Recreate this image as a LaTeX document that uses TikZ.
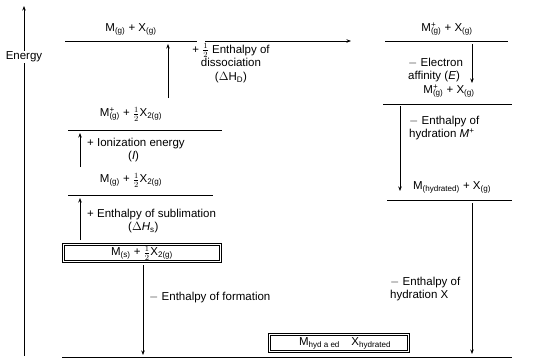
\documentclass[tikz,border=0pt]{standalone}
\usepackage{fontspec}
\setmainfont{Liberation Sans}
\usetikzlibrary{arrows.meta}
\newcommand\sbs[1]{\textsubscript{#1}}
\newcommand\ssb[2]{\rlap{\textsuperscript{#1}}\textsubscript{#2}}
\newcommand\hf{$\frac{1}{2}$}
\begin{document}
\begin{tikzpicture}[x=1pt,y=-1pt,font=\fontsize{11.5}{13.5}\selectfont,
  levelline/.style={line width=0.8pt},
  axisline/.style={line width=0.8pt},
  conn/.style={line width=0.7pt,-{Stealth[length=4.5pt,width=3.5pt]}},
  lbl/.style={inner sep=1pt},
  note/.style={inner sep=0pt,align=left,anchor=west},
  cnote/.style={inner sep=0pt,align=center},
  boxline/.style={line width=0.7pt},
  boxtext/.style={inner sep=0pt,minimum height=15pt}]
\useasboundingbox (0,0) rectangle (536,359);
% energy axis
\node[lbl] (en) at (24,57) {Energy};
\coordinate (axtop) at (24,6);
\coordinate (axbot) at (24,356);
\draw[conn,axisline] (en.north) -- (axtop);
\draw[axisline] (en.south) -- (axbot);
% left column levels
\node[lbl] (l1) at (131,29) {M\sbs{(g)} + X\sbs{(g)}};
\draw[levelline] (65,41) -- (197,41);
\node[lbl] (l2) at (131,114) {M\ssb{+}{(g)} + \hf X\sbs{2(g)}};
\draw[levelline] (68,130) -- (222,130);
\node[lbl] (l3) at (131,180) {M\sbs{(g)} + \hf X\sbs{2(g)}};
\draw[levelline] (68,195) -- (213,195);
\node[boxtext,minimum width=155pt] (l4) at (142,253) {M\sbs{(s)} + \hf X\sbs{2(g)}};
\draw[boxline] (l4.north west) rectangle (l4.south east);
\draw[boxline] ([xshift=-2pt,yshift=2pt]l4.north west) rectangle ([xshift=2pt,yshift=-2pt]l4.south east);
% right column levels
\node[lbl] (r1) at (447,29) {M\ssb{+}{(g)} + X\sbs{(g)}};
\draw[levelline] (385,41) -- (508,41);
\node[lbl] (r2) at (449,91) {M\ssb{+}{(g)} + X\sbs{(g)}};
\draw[levelline] (383,104) -- (512,104);
\node[lbl] (r3) at (452,187) {M\sbs{(hydrated)} + X\sbs{(g)}};
\draw[levelline] (387,200) -- (512,200);
\node[boxtext,minimum width=137pt] (bot) at (339,343) {\hspace*{12pt}M\sbs{hyd a ed}\quad X\sbs{hydrated}};
\draw[boxline] (bot.north west) rectangle (bot.south east);
\draw[boxline] ([xshift=-2pt,yshift=2pt]bot.north west) rectangle ([xshift=2pt,yshift=-2pt]bot.south east);
\draw[levelline] (62,357) -- (512,357);
% connectors
\coordinate (h1) at (205,41);
\coordinate (h2) at (351,41);
\draw[conn] (h1) -- (h2);
\coordinate (da) at (168,98);
\coordinate (db) at (168,44);
\draw[conn] (da) -- (db);
\node[cnote] (dl) at (231,63) {+ \hf\ Enthalpy of\\dissociation\\(\(\Delta\)H\sbs{D})};
\coordinate (ia) at (80,167);
\coordinate (ib) at (80,133);
\draw[conn] (ia) -- (ib);
\node[note] (il) at (87,150) {+ Ionization energy\\\hspace{41pt}(\textit{I})};
\coordinate (sa) at (80,240);
\coordinate (sb) at (80,198);
\draw[conn] (sa) -- (sb);
\node[note] (sl) at (87,221) {+ Enthalpy of sublimation\\\hspace{41pt}(\(\Delta\)\textit{H}\sbs{s})};
\coordinate (fa) at (143,265);
\coordinate (fb) at (143,355);
\draw[conn] (fa) -- (fb);
\node[note] (fl) at (149,298) {$-$ Enthalpy of formation};
\coordinate (ea) at (472,44);
\coordinate (eb) at (472,83);
\draw[conn] (ea) -- (eb);
\node[note] (el) at (408,70) {$-$ Electron\\affinity (\textit{E})};
\coordinate (ma) at (400,106);
\coordinate (mb) at (400,191);
\draw[conn] (ma) -- (mb);
\node[note] (ml) at (409,128) {$-$ Enthalpy of\\hydration \textit{M}\textsuperscript{+}};
\coordinate (xa) at (472,203);
\coordinate (xb) at (472,354);
\draw[conn] (xa) -- (xb);
\node[note] (xl) at (390,289) {$-$ Enthalpy of\\hydration X};
\end{tikzpicture}
\end{document}
